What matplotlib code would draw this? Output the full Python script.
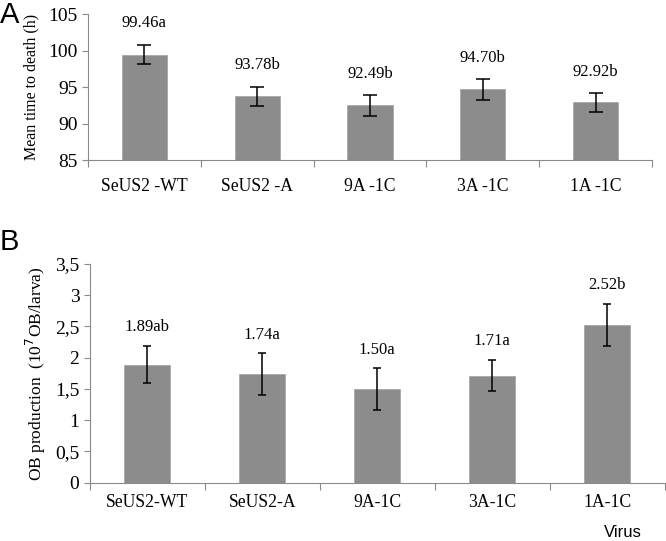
import numpy as np
import matplotlib
matplotlib.use('Agg')
import matplotlib.pyplot as plt

# panel A: mean time to death
virus_a = ['SeUS2 -WT', 'SeUS2 -A', '9A -1C', '3A -1C', '1A -1C']
mtd = [99.46, 93.78, 92.49, 94.70, 92.92]
mtd_err = [1.35, 1.3, 1.4, 1.4, 1.3]
mtd_lab = ['99.46a', '93.78b', '92.49b', '94.70b', '92.92b']

# panel B: OB production
virus_b = ['SeUS2-WT', 'SeUS2-A', '9A-1C', '3A-1C', '1A-1C']
ob = [1.89, 1.74, 1.50, 1.71, 2.52]
ob_err = [0.30, 0.33, 0.33, 0.25, 0.34]
ob_lab = ['1.89ab', '1.74a', '1.50a', '1.71a', '2.52b']

plt.rcParams['font.family'] = ['Liberation Serif', 'DejaVu Serif']
bar_col = '#8c8c8c'
ax_col = '#8a8a8a'

fig = plt.figure(figsize=(6.66, 5.41), dpi=100)
axA = fig.add_axes([0.132, 0.704, 0.847, 0.270])
axB = fig.add_axes([0.135, 0.108, 0.863, 0.404])


def style(ax, names, pad):
    x = np.arange(len(names))
    for s in ['top', 'right']:
        ax.spines[s].set_visible(False)
    for s in ['left', 'bottom']:
        ax.spines[s].set_color(ax_col)
    ax.set_xlim(-0.5, len(names) - 0.5)
    ax.set_xticks(np.arange(len(names) + 1) - 0.5)
    ax.set_xticklabels([])
    ax.set_xticks(x, minor=True)
    ax.set_xticklabels(names, minor=True, fontsize=12.7)
    ax.tick_params(axis='x', which='major', length=5, color=ax_col, direction='out')
    ax.tick_params(axis='x', which='minor', length=0, pad=pad)
    ax.tick_params(axis='y', length=4, color=ax_col, labelsize=14)
    return x


x = style(axA, virus_a, 13)
axA.bar(x, mtd, width=0.4, color=bar_col, edgecolor='#a8a8a8', linewidth=0.6)
axA.errorbar(x, mtd, yerr=mtd_err, fmt='none', ecolor='black', capsize=5,
             elinewidth=1.1, capthick=1.1)
axA.set_ylim(85, 105)
axA.set_yticks([85, 90, 95, 100, 105])
for i in range(len(x)):
    axA.text(x[i], mtd[i] + mtd_err[i] + 2.9, mtd_lab[i], ha='center',
             va='center', fontsize=12)
axA.set_ylabel('Mean time to death (h)', fontsize=11.5, labelpad=6)

x = style(axB, virus_b, 8)
axB.bar(x, ob, width=0.4, color=bar_col, edgecolor='#a8a8a8', linewidth=0.6)
axB.errorbar(x, ob, yerr=ob_err, fmt='none', ecolor='black', capsize=3,
             elinewidth=1.1, capthick=1.1)
axB.set_ylim(0, 3.5)
yt = np.arange(0, 3.51, 0.5)
axB.set_yticks(yt)
axB.set_yticklabels(['0', '0,5', '1', '1,5', '2', '2,5', '3', '3,5'])
for i in range(len(x)):
    axB.text(x[i], ob[i] + ob_err[i] + 0.3, ob_lab[i], ha='center',
             va='center', fontsize=12)
axB.set_ylabel('OB production  (10$^7$OB/larva)', fontsize=12.5, labelpad=5)

fig.text(0.935, 0.015, 'Virus', family='Liberation Sans', fontsize=12,
         ha='center', va='center')
fig.text(0.0, 0.973, 'A', family='Liberation Sans', fontsize=21,
         ha='left', va='center')
fig.text(0.0, 0.553, 'B', family='Liberation Sans', fontsize=21,
         ha='left', va='center')

fig.savefig('out.png', dpi=100)
